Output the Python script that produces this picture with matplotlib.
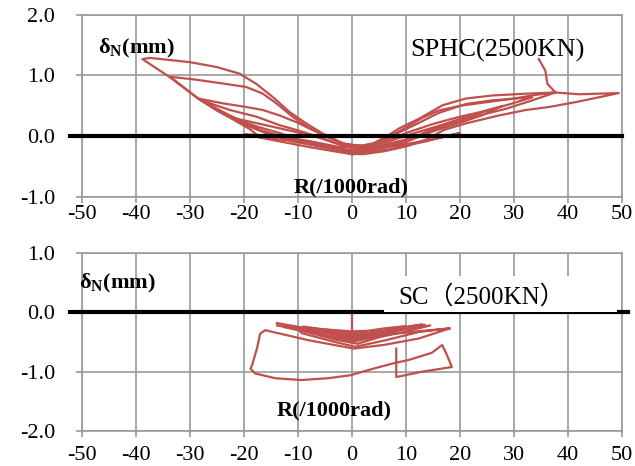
import matplotlib
matplotlib.use("Agg")
import matplotlib.pyplot as plt
from matplotlib.patches import Rectangle

plt.rcParams['font.family'] = ['Liberation Serif', 'DejaVu Serif']
plt.rcParams['axes.unicode_minus'] = False
plt.rcParams['mathtext.fontset'] = 'custom'
plt.rcParams['mathtext.rm'] = 'Liberation Serif'
plt.rcParams['mathtext.bf'] = 'Liberation Serif:bold'

# ---- SPHC (top) : R (/1000rad) vs deltaN (mm) ----
top_loop1_x = [0, -7, -12, -17, -19, -23.9, -28.8, -33.7, -38.8, -37.4, -30, -25.1, -20.8, -17.7, -14.6, -11.6,
               -8.5, -5.4, -2.5, 1, 4, 6.5, 8.8, 12.5, 16.8, 21.1, 26, 32.2, 37.7, 42, 45.7, 49.4, 45.7, 41.4,
               36.5, 32.2, 27.2, 21.1, 17, 14, 10, 6, 2, 0]
top_loop1_y = [-0.28, -0.15, -0.07, -0.02, 0.12, 0.37, 0.64, 0.97, 1.27, 1.29, 1.22, 1.14, 1.03, 0.86, 0.64, 0.40,
               0.21, 0.04, -0.10, -0.17, -0.12, 0.0, 0.13, 0.29, 0.51, 0.62, 0.67, 0.70, 0.72, 0.69, 0.70, 0.71,
               0.64, 0.56, 0.48, 0.43, 0.34, 0.21, 0.10, -0.05, -0.17, -0.25, -0.30, -0.29]
top_loop2_x = [0, -6, -11, -15.3, -17.7, -22.6, -28.2, -33.7, -28.8, -23.3, -19.6, -16.5, -14, -11, -7.9, -4.2,
               -1.5, 2, 5, 7.5, 10, 13, 16, 20, 25, 30, 34, 37.7, 33.4, 28.5, 23.5, 18, 14, 10, 5, 1, 0]
top_loop2_y = [-0.27, -0.17, -0.08, 0.02, 0.13, 0.34, 0.60, 0.98, 0.93, 0.86, 0.81, 0.70, 0.54, 0.32, 0.13, -0.01,
               -0.13, -0.16, -0.10, 0.02, 0.14, 0.30, 0.42, 0.50, 0.56, 0.62, 0.68, 0.72, 0.59, 0.45, 0.34, 0.21,
               0.05, -0.10, -0.22, -0.28, -0.27]
top_loop3_x = [0, -6, -11, -15, -18, -22, -25, -28.5, -23.9, -19.6, -16.5, -13.4, -10.3, -7.3, -4, -1, 2.5, 5.5,
               8, 12, 16, 21.1, 26, 33.4, 29, 25, 21, 16, 12, 7, 3, 0]
top_loop3_y = [-0.26, -0.15, -0.06, 0.02, 0.12, 0.28, 0.42, 0.62, 0.54, 0.48, 0.43, 0.34, 0.23, 0.10, -0.04, -0.14,
               -0.17, -0.10, 0.03, 0.20, 0.38, 0.53, 0.59, 0.64, 0.52, 0.42, 0.31, 0.16, 0.0, -0.15, -0.24, -0.26]
top_loop4_x = [0, -5, -10, -13.4, -17.7, -22.6, -27.6, -22.6, -17.7, -13.4, -9.1, -5, -2, 2, 6, 10, 15, 20, 24,
               28, 24, 20, 15, 10, 5, 0]
top_loop4_y = [-0.25, -0.16, -0.06, 0.05, 0.16, 0.32, 0.58, 0.43, 0.32, 0.18, 0.07, -0.05, -0.15, -0.18, -0.10,
               0.05, 0.20, 0.32, 0.40, 0.50, 0.34, 0.22, 0.08, -0.06, -0.18, -0.25]
top_loop5_x = [0, -6, -12, -17, -22, -17, -12, -7, -3, 2, 7, 12, 18, 24, 19, 14, 9, 4, 0]
top_loop5_y = [-0.24, -0.14, -0.03, 0.10, 0.30, 0.20, 0.10, 0.0, -0.12, -0.18, -0.08, 0.06, 0.22, 0.40, 0.20,
               0.05, -0.08, -0.18, -0.24]
top_loop6_x = [0, -8, -15, -20, -14, -8, -3, 3, 9, 15, 20, 14, 8, 3, 0]
top_loop6_y = [-0.30, -0.18, -0.06, 0.03, 0.0, -0.08, -0.17, -0.22, -0.15, -0.05, 0.05, -0.08, -0.20, -0.28, -0.30]
top_spike_x = [37.7, 36.2, 35.8, 34.6]
top_spike_y = [0.72, 0.86, 1.08, 1.27]

# ---- SC (bottom) ----
sc_outer_x = [18.1, 12.4, 5.8, 0.3, -8, -16.1, -17, -17.6, -18.5, -18.8, -17.9, -14.2, -9.4, -4.5, -0.3, 3.9,
              7.6, 10.6, 14.8, 16.7, 17.5, 18.5, 13, 8.2, 8.2]
sc_outer_y = [-0.27, -0.44, -0.55, -0.61, -0.47, -0.30, -0.36, -0.61, -0.89, -0.95, -1.03, -1.11, -1.14, -1.11,
              -1.06, -0.95, -0.86, -0.80, -0.68, -0.55, -0.70, -0.92, -1.00, -1.09, -0.61]
sc_c1_x = [-13.9, -9, -4, 0, 5, 9, 13.0, 9, 5, 0, -4, -9, -13.9]
sc_c1_y = [-0.18, -0.26, -0.34, -0.40, -0.33, -0.26, -0.20, -0.30, -0.40, -0.50, -0.42, -0.30, -0.22]
sc_c2_x = [-12.5, -8, -3, 0, 4, 9, 14.5, 10, 5, 1, -3, -8, -12.5]
sc_c2_y = [-0.22, -0.29, -0.36, -0.42, -0.36, -0.29, -0.22, -0.32, -0.42, -0.53, -0.46, -0.34, -0.25]
sc_c3_x = [-10, -6, -2, 1, 6, 12, 18.1, 12.4, 6.2, 0.6, -3.1, -9.3, -10]
sc_c3_y = [-0.25, -0.30, -0.36, -0.42, -0.38, -0.32, -0.27, -0.33, -0.47, -0.58, -0.50, -0.35, -0.28]
sc_c4_x = [-7, -4, -1, 2, 6, 11, 7, 3, 0, -3, -7]
sc_c4_y = [-0.27, -0.31, -0.36, -0.38, -0.31, -0.24, -0.33, -0.42, -0.47, -0.40, -0.30]
sc_c5_x = [-5, -2, 1, 4, 8, 5, 2, -1, -5]
sc_c5_y = [-0.30, -0.34, -0.38, -0.33, -0.28, -0.36, -0.43, -0.45, -0.33]
sc_c6_x = [-3, 0, 2, 5, 2, 0, -3]
sc_c6_y = [-0.33, -0.36, -0.37, -0.32, -0.40, -0.42, -0.36]
sc_c7_x = [-9, -5, -1, 3, 7, 12, 8, 4, 0, -4, -9]
sc_c7_y = [-0.24, -0.29, -0.33, -0.35, -0.30, -0.22, -0.30, -0.38, -0.44, -0.37, -0.27]
sc_c8_x = [-8, -4, 0, 4, 9, 13.5, 9, 4, 0, -4, -8]
sc_c8_y = [-0.26, -0.33, -0.38, -0.36, -0.28, -0.21, -0.29, -0.40, -0.48, -0.41, -0.31]
sc_c9_x = [-6, -3, 0, 3, 6, 10, 6, 3, 0, -3, -6]
sc_c9_y = [-0.28, -0.30, -0.32, -0.31, -0.27, -0.23, -0.34, -0.39, -0.41, -0.35, -0.31]
sc_stem_x = [0, 0]
sc_stem_y = [0, -0.35]

x_ticks = [-50, -40, -30, -20, -10, 0, 10, 20, 30, 40, 50]
top_y_ticks = [-1.0, 0.0, 1.0, 2.0]
bot_y_ticks = [-2.0, -1.0, 0.0, 1.0]

red = '#C0504D'
gray = '#999999'

fig = plt.figure(figsize=(6.35, 4.66), dpi=100)
ax1 = fig.add_axes([0.1291, 0.578, 0.8504, 0.390])
ax2 = fig.add_axes([0.1291, 0.075, 0.8504, 0.382])


def style(ax, yticks, xpad):
    ax.set_xlim(-50, 50)
    ax.set_ylim(yticks[0], yticks[-1])
    ax.set_xticks(x_ticks)
    ax.set_yticks(yticks)
    ax.set_yticklabels(['%.1f' % v for v in yticks])
    ax.set_axisbelow(True)
    ax.grid(True, color=gray, lw=1.2)
    for s in ax.spines.values():
        s.set_color(gray)
        s.set_linewidth(1.2)
    ax.tick_params(axis='both', color=gray, length=4.5, width=1.2, labelsize=16)
    ax.tick_params(axis='y', pad=15)
    ax.tick_params(axis='x', pad=xpad)


style(ax1, top_y_ticks, 1.5)
style(ax2, bot_y_ticks, 6.5)

# top panel
for xs, ys in [(top_loop1_x, top_loop1_y), (top_loop2_x, top_loop2_y), (top_loop3_x, top_loop3_y),
               (top_loop4_x, top_loop4_y), (top_loop5_x, top_loop5_y), (top_loop6_x, top_loop6_y),
               (top_spike_x, top_spike_y)]:
    ax1.plot(xs, ys, color=red, lw=1.6, zorder=2)
ax1.plot([-52.2, 50], [0, 0], color='black', lw=3, zorder=3, clip_on=False)
ax1.text(-47, 1.36, r'δ$_\mathbf{N}$(mm)', fontsize=16, fontweight='bold', va='baseline', zorder=5)
ax1.text(10.7, 1.31, 'SPHC(2500KN)', fontsize=19, va='baseline', zorder=5)
ax1.text(-10.8, -0.93, 'R(/1000rad)', fontsize=16, fontweight='bold', va='baseline', zorder=5)

# bottom panel
for xs, ys in [(sc_outer_x, sc_outer_y), (sc_c1_x, sc_c1_y), (sc_c2_x, sc_c2_y), (sc_c3_x, sc_c3_y),
               (sc_c4_x, sc_c4_y), (sc_c5_x, sc_c5_y), (sc_c6_x, sc_c6_y), (sc_c7_x, sc_c7_y),
               (sc_c8_x, sc_c8_y), (sc_c9_x, sc_c9_y), (sc_stem_x, sc_stem_y)]:
    ax2.plot(xs, ys, color=red, lw=1.6, zorder=2)
ax2.plot([-52.2, 51.2], [0, 0], color='black', lw=3, zorder=3, clip_on=False)
ax2.add_patch(Rectangle((6, 0.0), 43, 0.62, facecolor='white', edgecolor='none', zorder=4))
ax2.text(-50.5, 0.40, r'δ$_\mathbf{N}$(mm)', fontsize=16, fontweight='bold', va='baseline', zorder=5)
ax2.text(8.5, 0.15, 'SC（2500KN）', fontsize=18, va='baseline', zorder=5,
         family=['Liberation Serif', 'Noto Sans CJK JP'])
ax2.text(-13.9, -1.73, 'R(/1000rad)', fontsize=16, fontweight='bold', va='baseline', zorder=5)

fig.savefig('out.png', dpi=100)
